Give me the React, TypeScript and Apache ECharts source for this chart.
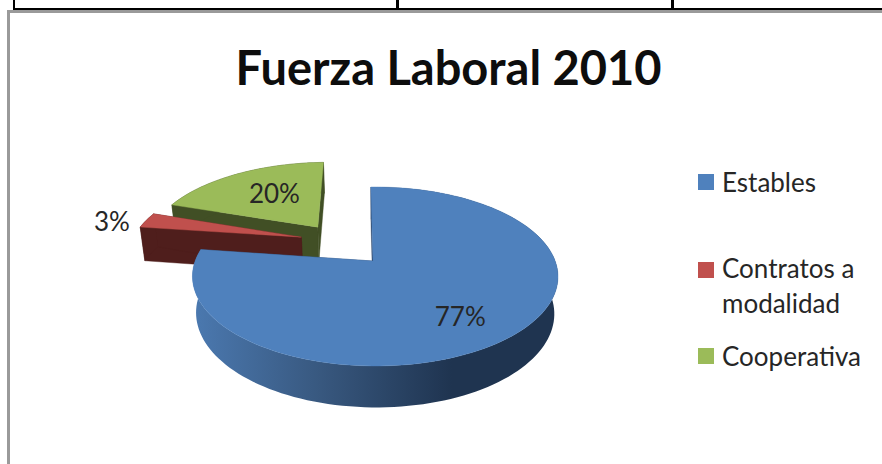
import React, { useEffect, useRef } from "react";
import * as echarts from "echarts";

const titleText = "Fuerza Laboral 2010";
const categories = ["Estables", "Contratos a\nmodalidad", "Cooperativa"];
const shares = [77.4, 3, 19.6];
const percentLabels = ["77%", "3%", "20%"];

const topColors = ["#4f81bd", "#c0504d", "#9bbb59"];
const wallColors = ["#2a4569", "#4f1e1c", "#414f25"];
const explodeX = [0, -0.42, -0.33];
const explodeZ = [0, 0.29, 0.42];
const labelRadius = [0.72, 1.27, 0.6];
const labelDX = [-8, 5, 7];
const labelDY = [3, 5, -1];
const paint = [30, 20, 10];
const legendY = [182, 270, 356];
const legendTextDY = [0, -2, 0];

const apexX = 373, apexY = 261;
const A = 86.8, B = 180, K = 0.173, M = -0.012;
const depth = 36, baseScale = 0.98;
const startDeg = -0.8;

function project(X: number, Z: number, base: boolean): number[] {
  const w = 1 + K * Z + M * X;
  const s = base ? baseScale : 1;
  const x = (B * X) / w;
  const y = (-A * Z) / w;
  return [apexX + x * s, apexY + y * s + (base ? depth / w : 0)];
}

function renderItem(params: any, api: any) {
  const i = params.dataIndex;
  const total = shares.reduce((a, b) => a + b, 0);
  const before = shares.slice(0, i).reduce((a, b) => a + b, 0);
  const a0 = ((startDeg + (before / total) * 360) * Math.PI) / 180;
  const a1 = a0 + ((api.value(0) as number) / total) * Math.PI * 2;
  const ox = explodeX[i], oz = explodeZ[i];
  const n = Math.max(6, Math.ceil(((a1 - a0) * 180) / Math.PI / 2));
  const rim = (base: boolean) => {
    const pts: number[][] = [];
    for (let k = 0; k <= n; k++) {
      const t = a0 + ((a1 - a0) * k) / n;
      pts.push(project(ox + Math.sin(t), oz + Math.cos(t), base));
    }
    return pts;
  };
  const topRim = rim(false), baseRim = rim(true);
  const topApex = project(ox, oz, false), baseApex = project(ox, oz, true);
  const z = paint[i];
  const outerFill =
    i === 0
      ? new echarts.graphic.LinearGradient(0, 0, 1, 0, [
          { offset: 0, color: "#4b79b0" },
          { offset: 0.35, color: "#38587f" },
          { offset: 0.71, color: "#1f3450" },
          { offset: 1, color: "#1f3450" },
        ])
      : wallColors[i];
  const mid = (a0 + a1) / 2;
  const lr = labelRadius[i];
  const lp = project(ox + lr * Math.sin(mid), oz + lr * Math.cos(mid), false);
  const poly = (points: number[][], fill: any, zz: number) => ({
    type: "polygon",
    z2: zz,
    shape: { points },
    style: { fill, stroke: fill === outerFill && i === 0 ? undefined : fill, lineWidth: 0.4 },
  });
  const children: any[] = [
    poly([topRim[0], topApex, baseApex, baseRim[0]], wallColors[i], z),
    poly([topRim[n], topApex, baseApex, baseRim[n]], wallColors[i], z),
    poly([...topRim, ...baseRim.slice().reverse()], outerFill, z + 1),
    poly([topApex, ...topRim], topColors[i], z + 2),
    {
      type: "text",
      z2: 60,
      style: {
        x: lp[0] + labelDX[i],
        y: lp[1] + labelDY[i],
        text: percentLabels[i],
        fill: "#262626",
        fontFamily: "Lato",
        fontSize: 26,
        textAlign: "center",
        textVerticalAlign: "middle",
      },
    },
  ];
  return { type: "group", children };
}

export default function App() {
  const ref = useRef<HTMLDivElement>(null);
  useEffect(() => {
    if (!ref.current) return;
    const chart = echarts.init(ref.current, undefined, { renderer: "svg" });
    const legendGraphics: any[] = [];
    categories.forEach((c, i) => {
      legendGraphics.push({
        type: "rect",
        shape: { x: 698, y: legendY[i] - 8, width: 16, height: 16 },
        style: { fill: topColors[i] },
      });
      legendGraphics.push({
        type: "text",
        x: 722,
        y: legendY[i] - 18 + legendTextDY[i],
        style: {
          text: c,
          fill: "#262626",
          fontFamily: "Lato",
          fontSize: 26,
          lineHeight: 35,
          textVerticalAlign: "top",
        },
      });
    });
    chart.setOption({
      animation: false,
      backgroundColor: "#ffffff",
      title: {
        text: titleText,
        left: 443.5,
        top: 38,
        textAlign: "center",
        textStyle: { fontFamily: "Lato", fontWeight: "bold", fontSize: 47, color: "#0d0d0d" },
      },
      graphic: [
        { type: "rect", shape: { x: 13, y: 8, width: 869, height: 2 }, style: { fill: "#000000" } },
        { type: "rect", shape: { x: 13, y: 0, width: 2, height: 8 }, style: { fill: "#000000" } },
        { type: "rect", shape: { x: 396, y: 0, width: 3, height: 8 }, style: { fill: "#000000" } },
        { type: "rect", shape: { x: 671, y: 0, width: 3, height: 8 }, style: { fill: "#000000" } },
        { type: "rect", shape: { x: 7, y: 10, width: 875, height: 3 }, style: { fill: "#9a9a9a" } },
        { type: "rect", shape: { x: 7, y: 10, width: 3, height: 454 }, style: { fill: "#9a9a9a" } },
        ...legendGraphics,
      ],
      series: [
        {
          type: "custom",
          coordinateSystem: "none",
          renderItem,
          data: shares.map((v) => [v]),
        },
      ],
    });
    return () => chart.dispose();
  }, []);
  return <div ref={ref} style={{ position: "absolute", left: 0, top: 0, width: 882, height: 464 }} />;
}
